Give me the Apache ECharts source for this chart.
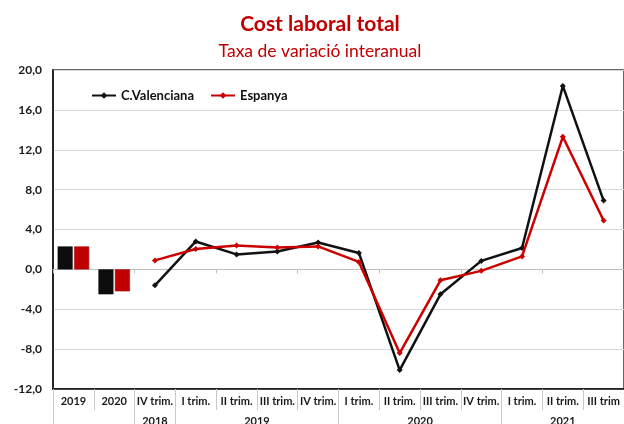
<!DOCTYPE html>
<html>
<head>
<meta charset="utf-8">
<script src="https://cdn.jsdelivr.net/npm/echarts@6/dist/echarts.min.js"></script>
<style>
  html, body { margin: 0; background: #fff; }
  #chart { width: 624px; height: 424px; }
</style>
</head>
<body>
<div id="chart"></div>
<script>
const categories = ['2019', '2020', 'IV trim.', 'I trim.', 'II trim.', 'III trim.', 'IV trim.',
  'I trim.', 'II trim.', 'III trim.', 'IV trim.', 'I trim.', 'II trim.', 'III trim'];
const groups = [
  { label: '2018', from: 2, to: 2 },
  { label: '2019', from: 3, to: 6 },
  { label: '2020', from: 7, to: 10 },
  { label: '2021', from: 11, to: 13 }
];
const annualValencia = [2.3, -2.5];
const annualEspanya = [2.3, -2.2];
const quarterValencia = [-1.6, 2.8, 1.5, 1.8, 2.7, 1.65, -10.1, -2.5, 0.85, 2.15, 18.4, 6.9];
const quarterEspanya = [0.9, 2.05, 2.4, 2.2, 2.3, 0.75, -8.4, -1.1, -0.15, 1.3, 13.3, 4.9];

const FONT = 'Lato';
const RED = '#c00000';

// bars only on the first (annual) slots, lines only on the quarterly ones
const pad = (arr, before, total) => {
  const out = new Array(total).fill(null);
  arr.forEach((v, i) => { out[before + i] = v; });
  return out;
};
const n = categories.length;
const barVal = pad(annualValencia, 0, n);
const barEsp = pad(annualEspanya, 0, n);
const lineVal = pad(quarterValencia, annualValencia.length, n);
const lineEsp = pad(quarterEspanya, annualEspanya.length, n);

// second label row: half-category slots, group label at the middle of its span
const groupSlots = new Array(2 * n + 1).fill('');
const longSeps = new Set([0]);
groups.forEach(g => {
  groupSlots[g.from + g.to + 1] = g.label;
  longSeps.add(2 * g.from);
  longSeps.add(2 * (g.to + 1));
});

const chart = echarts.init(document.getElementById('chart'));

chart.setOption({
  animation: false,
  title: {
    text: 'Cost laboral total',
    subtext: 'Taxa de variació interanual',
    left: 320,
    textAlign: 'center',
    top: 9,
    padding: [5, 0, 5, 0],
    itemGap: 7,
    textStyle: { fontFamily: FONT, fontSize: 21, fontWeight: 'bold', color: RED },
    subtextStyle: { fontFamily: FONT, fontSize: 17.5, color: RED }
  },
  legend: {
    data: ['C.Valenciana', 'Espanya'],
    left: 86,
    top: 84,
    itemWidth: 24,
    itemHeight: 8,
    itemGap: 16,
    textStyle: { fontFamily: FONT, fontSize: 13, fontWeight: 'bold', color: '#111' }
  },
  grid: {
    left: 53, right: 0, top: 70, bottom: 35,
    containLabel: false,
    outerBoundsMode: 'none',
    show: true,
    borderColor: '#333',
    borderWidth: 1.5
  },
  xAxis: [
    {
      // zero line with small ticks
      type: 'category',
      data: categories,
      position: 'bottom',
      axisLine: { onZero: true, lineStyle: { color: '#bfbfbf', width: 1 } },
      axisTick: { show: true, length: 4, lineStyle: { color: '#bfbfbf' } },
      axisLabel: { show: false },
      splitLine: { show: false }
    },
    {
      type: 'category',
      data: categories,
      position: 'bottom',
      axisLine: { onZero: false, lineStyle: { color: '#111', width: 1.5 } },
      axisTick: { show: true, length: 21, interval: 0, lineStyle: { color: '#c8c8c8' } },
      axisLabel: {
        interval: 0, margin: 7,
        fontFamily: FONT, fontSize: 11, fontWeight: 'bold', color: '#1a1a1a'
      },
      splitLine: { show: false }
    },
    {
      type: 'category',
      data: groupSlots,
      boundaryGap: false,
      position: 'bottom',
      axisLine: { show: false, onZero: false },
      axisTick: {
        show: true, length: 40,
        interval: (i) => longSeps.has(i),
        lineStyle: { color: '#c8c8c8' }
      },
      axisLabel: {
        interval: (i, v) => v !== '',
        margin: 27,
        fontFamily: FONT, fontSize: 11, fontWeight: 'bold', color: '#1a1a1a'
      },
      splitLine: { show: false }
    }
  ],
  yAxis: {
    type: 'value',
    min: -12,
    max: 20,
    interval: 4,
    axisLine: { show: true, lineStyle: { color: '#111', width: 1.5 } },
    axisTick: { show: false },
    axisLabel: {
      margin: 11,
      fontFamily: FONT, fontSize: 12, fontWeight: 'bold', color: '#1a1a1a',
      formatter: (v) => v.toFixed(1).replace('.', ',')
    },
    splitLine: { lineStyle: { color: '#d9d9d9' } }
  },
  series: [
    {
      name: 'C.Valenciana', type: 'line', data: lineVal,
      symbol: 'diamond', symbolSize: 6,
      lineStyle: { color: '#111', width: 2.5 },
      itemStyle: { color: '#111' },
      z: 3
    },
    {
      name: 'Espanya', type: 'line', data: lineEsp,
      symbol: 'diamond', symbolSize: 6,
      lineStyle: { color: '#cc0000', width: 2.5 },
      itemStyle: { color: '#cc0000' },
      z: 4
    },
    {
      name: 'C.Valenciana', type: 'bar', data: barVal,
      barWidth: 15, barGap: '10%',
      itemStyle: { color: '#0d0d0d', borderColor: '#000', borderWidth: 0.5 }
    },
    {
      name: 'Espanya', type: 'bar', data: barEsp,
      barWidth: 15, barGap: '10%',
      itemStyle: { color: RED, borderColor: '#a00000', borderWidth: 0.5 }
    }
  ]
});
</script>
</body>
</html>
